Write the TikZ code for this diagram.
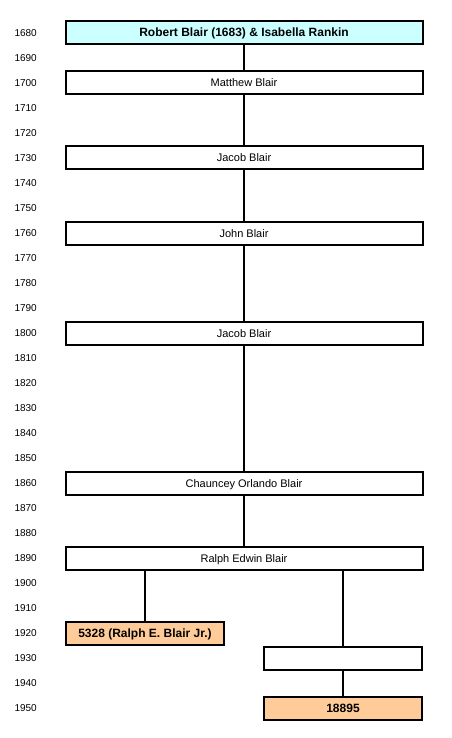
\documentclass[tikz,border=0pt]{standalone}
\usepackage{fontspec}
\setmainfont{Liberation Sans}
\usetikzlibrary{positioning}
\definecolor{TreeCyan}{HTML}{CCFFFF}
\definecolor{TreePeach}{HTML}{FFCC99}

\begin{document}
\begin{tikzpicture}[
        x=1pt,y=-1pt,
        font=\fontsize{10}{12}\selectfont,
        person/.style={rectangle,draw=black,line width=2pt,fill=white,inner sep=0pt,
          minimum width=357pt,minimum height=23pt,font=\fontsize{11}{13}\selectfont,
          text height=0.8em,text depth=0em},
        half/.style={person,minimum width=158pt},
        marked/.style={font=\fontsize{12}{14}\selectfont\bfseries},
        link/.style={line width=2pt,draw=black}
      ]
        \useasboundingbox (0,0) rectangle (451,738);
        % year scale
        \foreach \yr in {1680,1690,...,1950}
          \node[anchor=east,inner sep=0pt] (y\yr) at (37,{33+2.5*(\yr-1680)}) {\yr};
        \node[person,fill=TreeCyan,marked] (robert) at (244,33) {Robert Blair (1683) \& Isabella Rankin};
        \node[person] (matthew) at (244,83) {Matthew Blair};
        \node[person] (jacob) at (244,158) {Jacob Blair};
        \node[person] (john) at (244,233) {John Blair};
        \node[person] (jacobb) at (244,333) {Jacob Blair};
        \node[person] (chauncey) at (244,483) {Chauncey Orlando Blair};
        \node[person] (ralph) at (244,558) {Ralph Edwin Blair};
        \node[half,fill=TreePeach,marked] (ralphjr) at (145,633) {5328 (Ralph E. Blair Jr.)};
        \node[half] (blank) at (343,658) {};
        \node[half,fill=TreePeach,marked] (child) at (343,708) {18895};
        \draw[link] (robert) -- (matthew);
        \draw[link] (matthew) -- (jacob);
        \draw[link] (jacob) -- (john);
        \draw[link] (john) -- (jacobb);
        \draw[link] (jacobb) -- (chauncey);
        \draw[link] (chauncey) -- (ralph);
        \draw[link] (ralph.south -| ralphjr.north) -- (ralphjr.north);
        \draw[link] (ralph.south -| blank.north) -- (blank.north);
        \draw[link] (blank) -- (child);
      \end{tikzpicture}
\end{document}
